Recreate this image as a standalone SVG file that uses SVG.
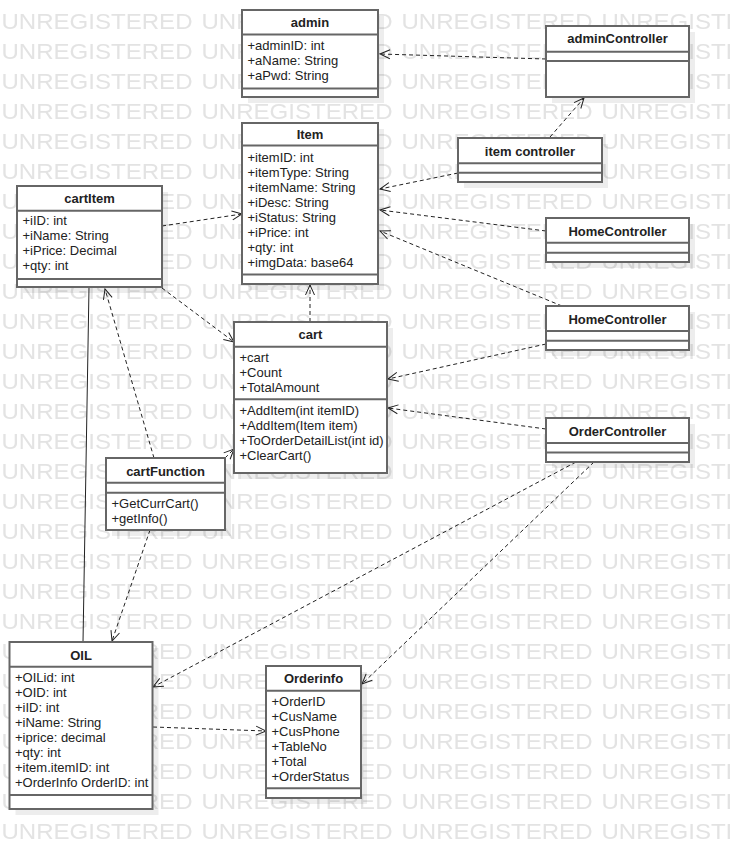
<svg xmlns="http://www.w3.org/2000/svg" width="730" height="849" viewBox="0 0 730 849">
<style>
.wm{font-family:"Liberation Sans",Arial,sans-serif;font-size:22.5px;fill:#e3e3e3}
.box{fill:#fff;stroke:#666;stroke-width:2}
.sh{fill:#000;fill-opacity:0.07}
.sep{stroke:#666;stroke-width:2}
.t{font-family:"Liberation Sans",Arial,sans-serif;font-size:13px;fill:#222}
.h{font-family:"Liberation Sans",Arial,sans-serif;font-size:13px;font-weight:bold;fill:#222;text-anchor:middle}
.dep{fill:none;stroke:#222;stroke-width:1;stroke-dasharray:4 3;marker-end:url(#open)}
.assoc{fill:none;stroke:#222;stroke-width:1}
</style>
<defs>
<pattern id="wmp" patternUnits="userSpaceOnUse" x="0" y="0" width="200" height="30">
<text class="wm" x="1.5" y="29" textLength="191" lengthAdjust="spacingAndGlyphs">UNREGISTERED</text>
</pattern>
<marker id="open" viewBox="0 0 12 12" markerUnits="userSpaceOnUse" markerWidth="12" markerHeight="12" refX="11" refY="6" orient="auto">
<path d="M1,1.5 L11,6 L1,10.5" fill="none" stroke="#222" stroke-width="1"/>
</marker>
</defs>
<rect x="0" y="0" width="730" height="849" fill="#fff"/>
<rect x="0" y="0" width="730" height="849" fill="url(#wmp)"/>

<g id="connectors">
<path class="dep" d="M546,59 L380,54"/>
<path class="dep" d="M550,137 L584,98"/>
<path class="dep" d="M458,173 L380,189"/>
<path class="dep" d="M546,231 L380,210"/>
<path class="dep" d="M562,306 L380,231"/>
<path class="dep" d="M546,344 L388,379"/>
<path class="dep" d="M546,429 L388,408"/>
<path class="dep" d="M576,462 L153,687"/>
<path class="dep" d="M594,462 L362,684"/>
<path class="dep" d="M153,727 L266,731"/>
<path class="dep" d="M162,226 L242,214"/>
<path class="dep" d="M162,288 L234,342"/>
<path class="dep" d="M310,322 L310,285"/>
<path class="dep" d="M154,458 L105,289"/>
<path class="dep" d="M225,458 L234,449"/>
<path class="dep" d="M150,530 L112,641"/>
<path class="assoc" d="M89,287 L83,642"/>
</g>

<g id="admin">
<rect class="sh" x="248" y="16" width="136" height="87"/>
<rect class="box" x="242" y="10" width="136" height="87"/>
<line class="sep" x1="242" y1="34.5" x2="378" y2="34.5"/>
<line class="sep" x1="242" y1="88.5" x2="378" y2="88.5"/>
<text class="h" x="310" y="27">admin</text>
<text class="t" x="247.5" y="50">+adminID: int</text>
<text class="t" x="247.5" y="65">+aName: String</text>
<text class="t" x="247.5" y="80">+aPwd: String</text>
</g>

<g id="adminController">
<rect class="sh" x="552" y="32" width="143" height="71"/>
<rect class="box" x="546" y="26" width="143" height="71"/>
<line class="sep" x1="546" y1="51.7" x2="689" y2="51.7"/>
<line class="sep" x1="546" y1="61" x2="689" y2="61"/>
<text class="h" x="617.5" y="43">adminController</text>
</g>

<g id="itemController">
<rect class="sh" x="464" y="144" width="144" height="44"/>
<rect class="box" x="458" y="138" width="144" height="44"/>
<line class="sep" x1="458" y1="163.3" x2="602" y2="163.3"/>
<line class="sep" x1="458" y1="172.7" x2="602" y2="172.7"/>
<text class="h" x="530" y="155.5">item controller</text>
</g>

<g id="Item">
<rect class="sh" x="248" y="129" width="136" height="161"/>
<rect class="box" x="242" y="123" width="136" height="161"/>
<line class="sep" x1="242" y1="145.5" x2="378" y2="145.5"/>
<line class="sep" x1="242" y1="274.5" x2="378" y2="274.5"/>
<text class="h" x="310" y="139">Item</text>
<text class="t" x="247.5" y="161.5">+itemID: int</text>
<text class="t" x="247.5" y="176.5">+itemType: String</text>
<text class="t" x="247.5" y="191.5">+itemName: String</text>
<text class="t" x="247.5" y="206.5">+iDesc: String</text>
<text class="t" x="247.5" y="221.5">+iStatus: String</text>
<text class="t" x="247.5" y="236.5">+iPrice: int</text>
<text class="t" x="247.5" y="251.5">+qty: int</text>
<text class="t" x="247.5" y="266.5">+imgData: base64</text>
</g>

<g id="cartItem">
<rect class="sh" x="23" y="192" width="145" height="101"/>
<rect class="box" x="17" y="186" width="145" height="101"/>
<line class="sep" x1="17" y1="210.7" x2="162" y2="210.7"/>
<line class="sep" x1="17" y1="279" x2="162" y2="279"/>
<text class="h" x="89.5" y="203">cartItem</text>
<text class="t" x="22.5" y="225">+iID: int</text>
<text class="t" x="22.5" y="240">+iName: String</text>
<text class="t" x="22.5" y="255">+iPrice: Decimal</text>
<text class="t" x="22.5" y="270">+qty: int</text>
</g>

<g id="HomeController1">
<rect class="sh" x="552" y="224" width="143" height="44"/>
<rect class="box" x="546" y="218" width="143" height="44"/>
<line class="sep" x1="546" y1="242.7" x2="689" y2="242.7"/>
<line class="sep" x1="546" y1="252.7" x2="689" y2="252.7"/>
<text class="h" x="617.5" y="235.5">HomeController</text>
</g>

<g id="HomeController2">
<rect class="sh" x="552" y="312" width="143" height="44"/>
<rect class="box" x="546" y="306" width="143" height="44"/>
<line class="sep" x1="546" y1="331" x2="689" y2="331"/>
<line class="sep" x1="546" y1="340.7" x2="689" y2="340.7"/>
<text class="h" x="617.5" y="323.5">HomeController</text>
</g>

<g id="cart">
<rect class="sh" x="240" y="328" width="153" height="151"/>
<rect class="box" x="234" y="322" width="153" height="151"/>
<line class="sep" x1="234" y1="346.7" x2="387" y2="346.7"/>
<line class="sep" x1="234" y1="399.3" x2="387" y2="399.3"/>
<text class="h" x="310.5" y="339">cart</text>
<text class="t" x="239.5" y="362.3">+cart</text>
<text class="t" x="239.5" y="377.3">+Count</text>
<text class="t" x="239.5" y="392.3">+TotalAmount</text>
<text class="t" x="239.5" y="414.5">+AddItem(int itemID)</text>
<text class="t" x="239.5" y="429.5">+AddItem(Item item)</text>
<text class="t" x="239.5" y="444.5">+ToOrderDetailList(int id)</text>
<text class="t" x="239.5" y="459.5">+ClearCart()</text>
</g>

<g id="OrderController">
<rect class="sh" x="552" y="424" width="143" height="44"/>
<rect class="box" x="546" y="418" width="143" height="44"/>
<line class="sep" x1="546" y1="443" x2="689" y2="443"/>
<line class="sep" x1="546" y1="452.5" x2="689" y2="452.5"/>
<text class="h" x="617.5" y="435.5">OrderController</text>
</g>

<g id="cartFunction">
<rect class="sh" x="112" y="464" width="119" height="72"/>
<rect class="box" x="106" y="458" width="119" height="72"/>
<line class="sep" x1="106" y1="482.7" x2="225" y2="482.7"/>
<line class="sep" x1="106" y1="492.7" x2="225" y2="492.7"/>
<text class="h" x="165.5" y="475.5">cartFunction</text>
<text class="t" x="111.5" y="508">+GetCurrCart()</text>
<text class="t" x="111.5" y="523">+getInfo()</text>
</g>

<g id="OIL">
<rect class="sh" x="15.5" y="648" width="143" height="167"/>
<rect class="box" x="9.5" y="642" width="143" height="167"/>
<line class="sep" x1="9.5" y1="666.7" x2="152.5" y2="666.7"/>
<line class="sep" x1="9.5" y1="795" x2="152.5" y2="795"/>
<text class="h" x="81" y="659.5">OIL</text>
<text class="t" x="15" y="682">+OILid: int</text>
<text class="t" x="15" y="697">+OID: int</text>
<text class="t" x="15" y="712">+iID: int</text>
<text class="t" x="15" y="727">+iName: String</text>
<text class="t" x="15" y="742">+iprice: decimal</text>
<text class="t" x="15" y="757">+qty: int</text>
<text class="t" x="15" y="772">+item.itemID: int</text>
<text class="t" x="15" y="787">+OrderInfo OrderID: int</text>
</g>

<g id="Orderinfo">
<rect class="sh" x="272" y="672" width="95" height="132"/>
<rect class="box" x="266" y="666" width="95" height="132"/>
<line class="sep" x1="266" y1="690.7" x2="361" y2="690.7"/>
<line class="sep" x1="266" y1="788.3" x2="361" y2="788.3"/>
<text class="h" x="313.5" y="683">Orderinfo</text>
<text class="t" x="271.5" y="706">+OrderID</text>
<text class="t" x="271.5" y="721">+CusName</text>
<text class="t" x="271.5" y="736">+CusPhone</text>
<text class="t" x="271.5" y="751">+TableNo</text>
<text class="t" x="271.5" y="766">+Total</text>
<text class="t" x="271.5" y="781">+OrderStatus</text>
</g>
</svg>
